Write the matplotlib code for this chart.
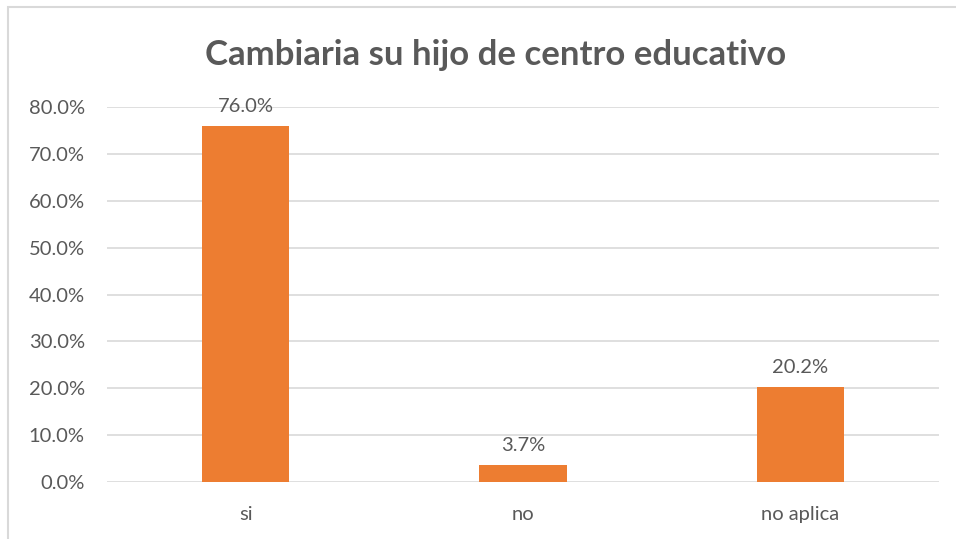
import numpy as np
import matplotlib.pyplot as plt
from matplotlib.patches import Rectangle

categories = ["si", "no", "no aplica"]
values = [76.0, 3.7, 20.2]
yticks = [0, 10, 20, 30, 40, 50, 60, 70, 80]

ORANGE = "#ED7D31"
GRID = "#D9D9D9"
TEXT = "#595959"

plt.rcParams["font.family"] = ["Lato", "DejaVu Sans"]

fig = plt.figure(figsize=(9.56, 5.39), dpi=100)
ax = fig.add_axes([107 / 956, 1 - 482 / 539, (939 - 107) / 956, (482 - 107) / 539])

x = np.arange(len(categories))
bars = ax.bar(x, values, width=0.314, color=ORANGE, zorder=3)

for b, v in zip(bars, values):
    ax.annotate(f"{v:.1f}%", (b.get_x() + b.get_width() / 2, v),
                xytext=(0, 8), textcoords="offset points",
                ha="center", va="bottom", fontsize=14.5, color=TEXT)

ax.set_xlim(-0.5, 2.5)
ax.set_ylim(0, 80)
ax.set_yticks(yticks)
ax.set_yticklabels([f"{t:.1f}%" for t in yticks])
ax.set_xticks(x)
ax.set_xticklabels(categories)
ax.tick_params(axis="both", length=0, labelsize=14.5, colors=TEXT)
ax.tick_params(axis="x", pad=17)
ax.tick_params(axis="y", pad=16)
ax.grid(axis="y", color=GRID, linewidth=1.2, zorder=0)
for s in ax.spines.values():
    s.set_visible(False)

fig.text(496 / 956, 1 - 55 / 539, "Cambiaria su hijo de centro educativo",
         ha="center", va="center", fontsize=25, fontweight="bold", color=TEXT)

# chart frame (left/top edges visible)
fig.patches.append(Rectangle((8 / 956, -0.1), 1.2, 1 - 7 / 539 + 0.1,
                             transform=fig.transFigure, fill=False,
                             edgecolor=GRID, linewidth=1.5))

fig.savefig("out.png", dpi=100)
